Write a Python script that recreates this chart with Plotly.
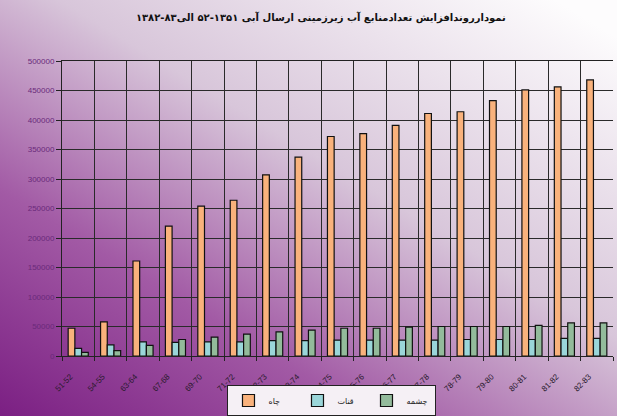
import base64
import plotly.graph_objects as go

categories = ["51-52", "54-55", "63-64", "67-68", "69-70", "71-72", "72-73", "73-74", "74-75",
              "75-76", "76-77", "77-78", "78-79", "79-80", "80-81", "81-82", "82-83"]
chah = [47000, 58000, 161000, 220000, 254000, 264000, 307000, 337000, 372000,
        377000, 391000, 411000, 414000, 433000, 451000, 456000, 468000]
qanat = [13000, 19000, 24000, 23000, 24000, 24000, 26000, 26000, 27000,
         27000, 27000, 27000, 28000, 28000, 28000, 30000, 30000]
cheshmeh = [6000, 9000, 18000, 28000, 32000, 37000, 41000, 44000, 47000,
            47000, 49000, 50000, 50000, 50000, 52000, 56000, 56000]
series_names = ["چاه", "قنات", "چشمه"]
title_text = "نمودارروندافزایش تعدادمنابع آب زیرزمینی ارسال آبی ۱۳۵۱-۵۲ الی۸۳-۱۳۸۲"

W, H = 617, 416
L, R, T, B = 62, 4, 61, 60
pw, ph = W - L - R, H - T - B

svg = f'''<svg xmlns="http://www.w3.org/2000/svg" width="{W}" height="{H}" viewBox="0 0 {W} {H}" preserveAspectRatio="none">
<defs><linearGradient id="g" x1="0" y1="1" x2="0.9" y2="0">
<stop offset="0" stop-color="#7b1f83"/>
<stop offset="0.3" stop-color="#a25aa5"/>
<stop offset="0.6" stop-color="#d8c6da"/>
<stop offset="1" stop-color="#fdfcfd"/>
</linearGradient></defs>
<rect width="{W}" height="{H}" fill="url(#g)"/></svg>'''
bg_src = "data:image/svg+xml;base64," + base64.b64encode(svg.encode()).decode()

fig = go.Figure()
colors = ["#f9b27c", "#9ad6d9", "#93bb9b"]
for name, vals, col in zip(series_names, [chah, qanat, cheshmeh], colors):
    fig.add_trace(go.Bar(x=categories, y=vals, name=name,
                         marker=dict(color=col, line=dict(color="#111111", width=1.2))))

fig.update_layout(
    width=W, height=H,
    margin=dict(l=L, r=R, t=T, b=B, autoexpand=False),
    paper_bgcolor="#c9a6cb",
    plot_bgcolor="rgba(0,0,0,0)",
    barmode="group", bargap=0.38, bargroupgap=0,
    title=dict(text=title_text, x=0.52, xanchor="center", yref="container", y=0.958,
               yanchor="middle",
               font=dict(family="DejaVu Sans", size=10, color="#111111", weight="bold")),
    images=[dict(source=bg_src, xref="paper", yref="paper",
                 x=-L / pw, y=1 + T / ph, sizex=W / pw, sizey=H / ph,
                 xanchor="left", yanchor="top", sizing="stretch", layer="below")],
    legend=dict(orientation="h", x=0.49, xanchor="center", yref="container", y=-0.015,
                yanchor="bottom", bgcolor="#f5f0f5", bordercolor="#222222", borderwidth=1,
                font=dict(family="DejaVu Sans", size=8, color="#222222"),
                itemwidth=30, entrywidth=24, entrywidthmode="pixels", tracegroupgap=0),
    showlegend=True,
)
fig.update_xaxes(type="category", tickson="boundaries", showgrid=True, gridcolor="#2a2a2a",
                 gridwidth=1, showline=True, linecolor="#222222", linewidth=1, mirror=True,
                 ticks="outside", ticklen=4, tickcolor="#222222", tickangle=-45,
                 tickfont=dict(family="Liberation Sans", size=8, color="#2a1a2e"),
                 ticklabelstandoff=12, ticklabelshift=-8, automargin=False)
fig.update_yaxes(range=[0, 500000], dtick=50000, tickformat="d", showgrid=True,
                 gridcolor="#2a2a2a", gridwidth=1, showline=True, linecolor="#222222",
                 linewidth=1, ticks="outside", ticklen=5, tickcolor="#222222",
                 tickfont=dict(family="Liberation Sans", size=8, color="#6a2a7a"),
                 zeroline=False, automargin=False)

fig.write_html("out.html", config={"displayModeBar": False},
               post_script="document.body.style.margin='0';document.body.style.padding='0';")
